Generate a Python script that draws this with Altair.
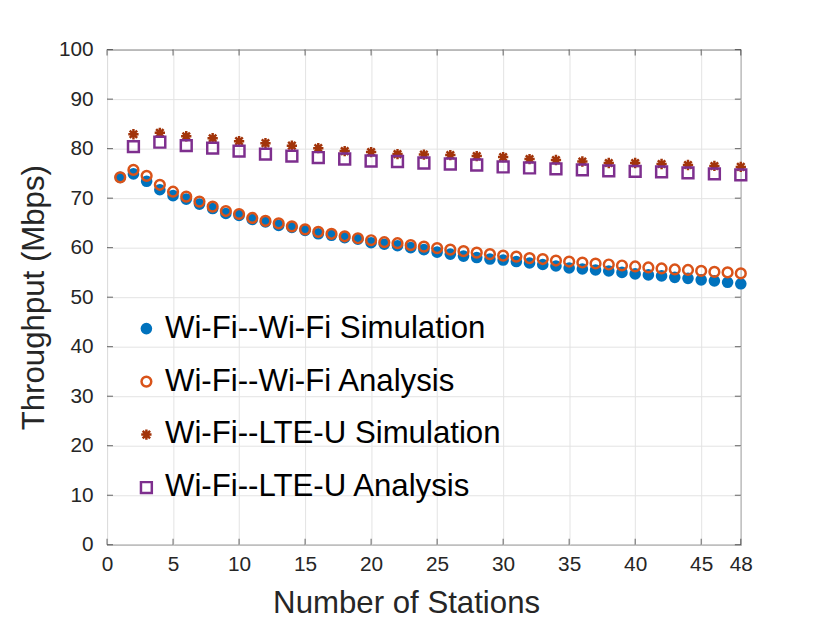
import altair as alt
import pandas as pd

# ---- data ----
stations_all = [1, 2, 3, 4, 5, 6, 7, 8, 9, 10, 11, 12, 13, 14, 15, 16, 17, 18, 19, 20,
                21, 22, 23, 24, 25, 26, 27, 28, 29, 30, 31, 32, 33, 34, 35, 36, 37, 38,
                39, 40, 41, 42, 43, 44, 45, 46, 47, 48]
stations_even = [2, 4, 6, 8, 10, 12, 14, 16, 18, 20, 22, 24, 26, 28, 30, 32, 34, 36,
                 38, 40, 42, 44, 46, 48]

wifi_wifi_sim = [74.2, 74.9, 73.4, 71.7, 70.5, 69.8, 68.8, 67.9, 66.9, 66.5, 65.7, 65.2,
                 64.5, 64.1, 63.5, 62.8, 62.5, 62.0, 61.7, 61.0, 60.7, 60.4, 60.0, 59.6,
                 59.1, 58.7, 58.3, 58.0, 57.7, 57.5, 57.2, 56.9, 56.6, 56.3, 55.9, 55.7,
                 55.5, 55.3, 55.0, 54.7, 54.5, 54.3, 54.0, 53.8, 53.5, 53.3, 53.0, 52.7]
wifi_wifi_ana = [74.2, 75.7, 74.5, 72.7, 71.3, 70.3, 69.3, 68.3, 67.4, 66.8, 66.0, 65.4,
                 64.9, 64.3, 63.7, 63.2, 62.8, 62.3, 61.9, 61.5, 61.1, 60.9, 60.5, 60.2,
                 59.9, 59.6, 59.3, 59.0, 58.7, 58.4, 58.2, 57.9, 57.7, 57.4, 57.2, 57.0,
                 56.8, 56.6, 56.4, 56.2, 56.0, 55.8, 55.6, 55.5, 55.3, 55.1, 55.0, 54.8]
wifi_lte_sim = [82.9, 83.2, 82.5, 82.1, 81.5, 81.1, 80.6, 80.1, 79.5, 79.3, 78.9, 78.8,
                78.7, 78.5, 78.3, 77.9, 77.7, 77.4, 77.1, 77.1, 76.9, 76.7, 76.5, 76.3]
wifi_lte_ana = [80.4, 81.3, 80.6, 80.1, 79.5, 78.9, 78.5, 78.2, 77.9, 77.5, 77.4, 77.1,
                76.9, 76.7, 76.3, 76.1, 75.9, 75.7, 75.5, 75.4, 75.3, 75.1, 74.9, 74.7]

series_names = ["Wi-Fi--Wi-Fi Simulation", "Wi-Fi--Wi-Fi Analysis",
                "Wi-Fi--LTE-U Simulation", "Wi-Fi--LTE-U Analysis"]
x_ticks = [0, 5, 10, 15, 20, 25, 30, 35, 40, 45, 48]
y_ticks = [0, 10, 20, 30, 40, 50, 60, 70, 80, 90, 100]

# ---- styling ----
stroke_colors = ["#0072BD", "#D95319", "#A2340A", "#7E2F8E"]
fill_colors = ["#0072BD", "transparent", "#A2340A", "transparent"]
asterisk = "M-1,0L1,0M0,-1L0,1M-0.72,-0.72L0.72,0.72M-0.72,0.72L0.72,-0.72"
shapes = ["circle", "circle", asterisk, "square"]
sizes = [85, 120, 230, 80]
FONT = "Liberation Sans"
AX = "#262626"

rows = []
for xs, ys, name in [(stations_all, wifi_wifi_sim, series_names[0]),
                     (stations_all, wifi_wifi_ana, series_names[1]),
                     (stations_even, wifi_lte_sim, series_names[2]),
                     (stations_even, wifi_lte_ana, series_names[3])]:
    for xv, yv in zip(xs, ys):
        rows.append({"stations": xv, "throughput": yv, "series": name})
df = pd.DataFrame(rows)

xscale = alt.Scale(domain=[0, 48], nice=False, zero=False)
yscale = alt.Scale(domain=[0, 100], nice=False)


def make_legend():
    return alt.Legend(title=None, orient="none", legendX=24, legendY=266,
                      labelFontSize=31.5, labelFont=FONT, labelColor="black",
                      labelLimit=600, rowPadding=20.5, padding=0,
                      labelOffset=3, symbolStrokeWidth=2.5)


points = alt.Chart(df).mark_point(filled=False, strokeWidth=2.5, opacity=1).encode(
    x=alt.X("stations:Q", scale=xscale,
            axis=alt.Axis(values=x_ticks, title="Number of Stations", grid=True,
                          ticks=False, domain=False, labelPadding=9, titlePadding=13,
                          titleX=302, labelFlush=False)),
    y=alt.Y("throughput:Q", scale=yscale,
            axis=alt.Axis(values=y_ticks, title="Throughput (Mbps)", grid=True,
                          ticks=False, domain=False, labelPadding=14, titlePadding=8)),
    stroke=alt.Stroke("series:N", scale=alt.Scale(domain=series_names, range=stroke_colors),
                      legend=make_legend()),
    fill=alt.Fill("series:N", scale=alt.Scale(domain=series_names, range=fill_colors),
                  legend=make_legend()),
    shape=alt.Shape("series:N", scale=alt.Scale(domain=series_names, range=shapes),
                    legend=make_legend()),
    size=alt.Size("series:N", scale=alt.Scale(domain=series_names, range=sizes),
                  legend=make_legend()),
    order=alt.Order("series_order:Q"),
).transform_calculate(
    series_order="indexof(%s, datum.series)" % str(series_names)
)

ydf = pd.DataFrame({"v": y_ticks})
xdf = pd.DataFrame({"v": x_ticks})
tick_left = alt.Chart(ydf).mark_tick(orient="horizontal", color=AX, thickness=1, size=6).encode(
    y=alt.Y("v:Q", scale=yscale), x=alt.value(3))
tick_right = alt.Chart(ydf).mark_tick(orient="horizontal", color=AX, thickness=1, size=6).encode(
    y=alt.Y("v:Q", scale=yscale), x=alt.value(637))
tick_bottom = alt.Chart(xdf).mark_tick(orient="vertical", color=AX, thickness=1, size=6).encode(
    x=alt.X("v:Q", scale=xscale), y=alt.value(497))
tick_top = alt.Chart(xdf).mark_tick(orient="vertical", color=AX, thickness=1, size=6).encode(
    x=alt.X("v:Q", scale=xscale), y=alt.value(3))

chart = alt.layer(points, tick_left, tick_right, tick_bottom, tick_top).properties(
    width=640, height=500,
    autosize=alt.AutoSizeParams(type="none"),
    padding={"left": 100, "top": 39, "right": 82, "bottom": 75},
    background="white",
).configure_view(
    stroke=AX, strokeWidth=1
).configure_axis(
    labelFont=FONT, labelFontSize=21, labelColor=AX,
    titleFont=FONT, titleFontSize=31.5, titleFontWeight="normal", titleColor=AX,
    gridColor="#e3e3e3", gridWidth=1,
)

chart.save("out.html", embed_options={"renderer": "svg", "actions": False})
